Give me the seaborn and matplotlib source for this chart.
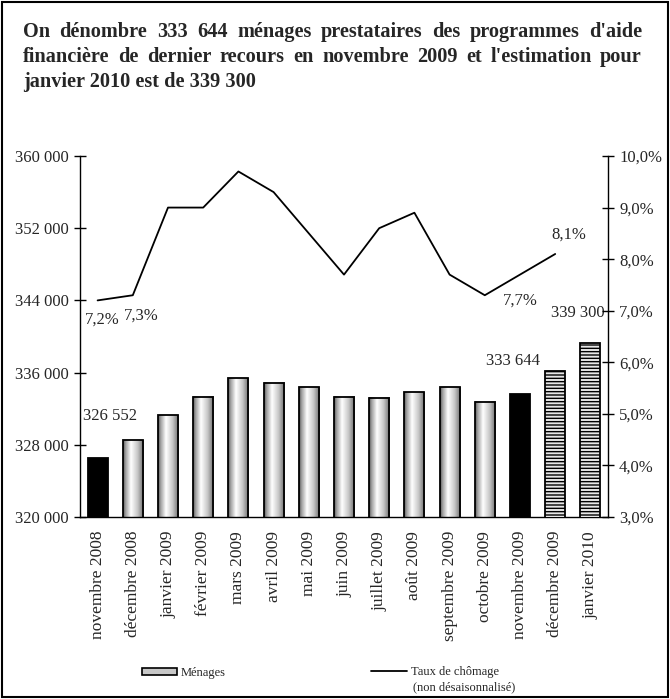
import numpy as np
import pandas as pd
import matplotlib
matplotlib.use("Agg")
import matplotlib.pyplot as plt
import seaborn as sns
from matplotlib.patches import Patch, Rectangle
from matplotlib.lines import Line2D
from matplotlib.ticker import FuncFormatter, FixedLocator

# ---------------- data ----------------
mois = ["novembre 2008", "décembre 2008", "janvier 2009", "février 2009", "mars 2009",
        "avril 2009", "mai 2009", "juin 2009", "juillet 2009", "août 2009",
        "septembre 2009", "octobre 2009", "novembre 2009", "décembre 2009", "janvier 2010"]
menages = [326552, 328500, 331250, 333350, 335350, 334850, 334350, 333350, 333200,
           333850, 334350, 332750, 333644, 336150, 339300]
bar_style = ["black", "grad", "grad", "grad", "grad", "grad", "grad", "grad", "grad",
             "grad", "grad", "grad", "black", "hatch", "hatch"]
taux = [7.2, 7.3, 9.0, 9.0, 9.7, 9.3, 8.5, 7.7, 8.6, 8.9, 7.7, 7.3, 7.7, 8.1]
taux_labels = {0: "7,2%", 1: "7,3%", 12: "7,7%", 13: "8,1%"}
bar_labels = {0: "326 552", 12: "333 644", 14: "339 300"}
title_lines = ["On dénombre 333 644 ménages prestataires des programmes d'aide",
               "financière de dernier recours en novembre 2009 et l'estimation pour",
               "janvier 2010 est de 339 300"]

sns.set_style("white")
plt.rcParams["font.family"] = ["Liberation Serif", "DejaVu Serif"]
matplotlib.rcParams["hatch.color"] = "#444444"

W, H = 670, 699
fig = plt.figure(figsize=(W / 100, H / 100), dpi=100)
ax = fig.add_axes([80 / W, 1 - 517 / H, (608 - 80) / W, (517 - 156) / H])

df = pd.DataFrame({"mois": mois, "menages": menages})
sns.barplot(data=df, x="mois", y="menages", ax=ax, width=0.57, color="white",
            edgecolor="black", linewidth=1.3, saturation=1)

# style bars
grad = np.interp(np.linspace(0, 1, 64), [0, 0.12, 0.38, 0.7, 1.0],
                 [0.35, 0.62, 1.0, 0.78, 0.42]).reshape(1, -1)
for p, st in zip(ax.patches, bar_style):
    x0, y0 = p.get_x(), p.get_y()
    w, h = p.get_width(), p.get_height()
    p.set_zorder(3)
    if st == "black":
        p.set_facecolor("black")
    elif st == "hatch":
        p.set_facecolor("#e6e6e6")
        p.set_hatch("-----")
        p.set_edgecolor("black")
    else:
        p.set_facecolor("none")
        ax.imshow(grad, extent=[x0, x0 + w, y0, y0 + h], aspect="auto", cmap="gray",
                  vmin=0, vmax=1, zorder=2, interpolation="bilinear")
ax.set_ylim(320000, 360000)
ax.set_xlim(-0.5, len(mois) - 0.5)
ax.set_aspect("auto")

ax.set_xlabel("")
ax.set_ylabel("")
ax.yaxis.set_major_locator(FixedLocator(np.arange(320000, 360001, 8000)))
ax.yaxis.set_major_formatter(FuncFormatter(lambda v, _: f"{int(v):,}".replace(",", " ")))
ax.set_xticks(range(len(mois)))
ax.set_xticklabels(mois, rotation=90, fontsize=12.5)
ax.tick_params(axis="x", which="major", length=0, pad=10)
ax.set_xticks(np.arange(-0.5, len(mois), 1.0), minor=True)
ax.tick_params(axis="x", which="minor", direction="inout", length=9, width=1, color="black")
ax.tick_params(axis="y", direction="inout", length=8, width=1, color="black",
               labelsize=12, pad=4, left=True)
for s in ["top", "right"]:
    ax.spines[s].set_visible(False)
for s in ["left", "bottom"]:
    ax.spines[s].set_color("black")
    ax.spines[s].set_linewidth(1)

label_xy = {0: (0.35, 331150), 12: (11.8, 337250), 14: (13.65, 342650)}
for i, lab in bar_labels.items():
    ax.text(label_xy[i][0], label_xy[i][1], lab, ha="center", va="center", fontsize=12, zorder=5)

# line on secondary axis
ax2 = ax.twinx()
sns.lineplot(x=np.arange(len(taux)), y=taux, ax=ax2, color="black", linewidth=1.3)
ax2.set_ylim(3.0, 10.0)
ax2.set_xlim(-0.5, len(mois) - 0.5)
ax2.yaxis.set_major_locator(FixedLocator(np.arange(3, 10.01, 1)))
ax2.yaxis.set_major_formatter(FuncFormatter(lambda v, _: f"{v:.1f}%".replace(".", ",")))
ax2.tick_params(axis="y", direction="inout", length=8, width=1, color="black",
                labelsize=12, pad=4, right=True)
for s in ["top", "left", "bottom"]:
    ax2.spines[s].set_visible(False)
ax2.spines["right"].set_color("black")
ax2.spines["right"].set_linewidth(1)
lab_pos = {0: (0.12, 6.82), 1: (1.25, 6.91), 12: (12.02, 7.2), 13: (13.4, 8.47)}
for i, lab in taux_labels.items():
    ax2.text(lab_pos[i][0], lab_pos[i][1], lab, ha="center", va="center", fontsize=12)

# title (justified for first two lines)
renderer = fig.canvas.get_renderer()
x_left, x_right = 23, 642
tfs = 14.6
for k, line in enumerate(title_lines):
    yb = 1 - (37 + 25 * k) / H
    if k < len(title_lines) - 1:
        words = line.split(" ")
        texts = [fig.text(0, yb, wd, fontsize=tfs, fontweight="bold", ha="left", va="baseline")
                 for wd in words]
        widths = [t.get_window_extent(renderer).width for t in texts]
        gap = (x_right - x_left - sum(widths)) / (len(words) - 1)
        x = x_left
        for t, wdt in zip(texts, widths):
            t.set_x(x / W)
            x += wdt + gap
    else:
        fig.text(x_left / W, yb, line, fontsize=tfs, fontweight="bold", ha="left", va="baseline")

# legends
h1 = [Patch(facecolor="#c8c8c8", edgecolor="black", linewidth=1.2)]
fig.legend(h1, ["Ménages"], loc="center left", bbox_to_anchor=(142 / W, 1 - 673 / H),
           frameon=False, fontsize=9, handlelength=2.8, handleheight=0.55,
           handletextpad=0.3, borderpad=0, borderaxespad=0)
h2 = [Line2D([0], [0], color="black", linewidth=1.3)]
fig.legend(h2, ["Taux de chômage"], loc="center left",
           bbox_to_anchor=(371 / W, 1 - 672 / H), frameon=False, fontsize=9,
           handlelength=2.9, handletextpad=0.3, borderpad=0, borderaxespad=0)
fig.text(413 / W, 1 - 687 / H, "(non désaisonnalisé)", fontsize=9, ha="left", va="center")

# outer frame
fig.patches.append(Rectangle((2 / W, 2 / H), 1 - 4 / W, 1 - 4 / H, transform=fig.transFigure,
                             fill=False, edgecolor="black", linewidth=1.5))

fig.savefig("out.png", dpi=100)
